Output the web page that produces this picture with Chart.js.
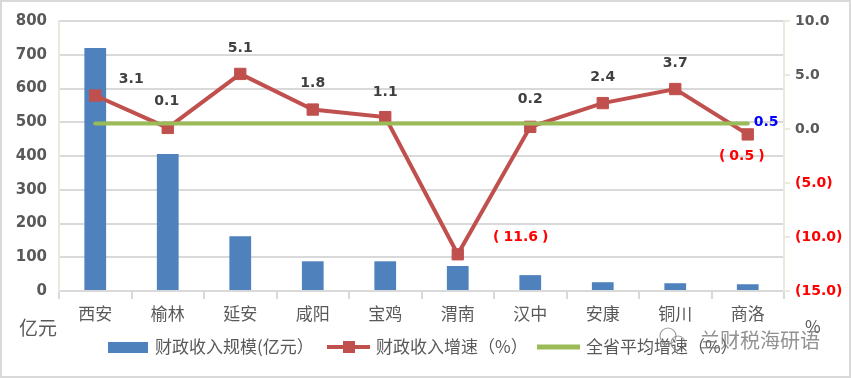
<!DOCTYPE html>
<html><head><meta charset="utf-8">
<script src="https://cdn.jsdelivr.net/npm/chart.js@4"></script>
<style>html,body{margin:0;padding:0;background:#fff}canvas{display:block}</style>
</head><body>
<canvas id="c" width="851" height="378"></canvas>
<script>
const categories = ['西安','榆林','延安','咸阳','宝鸡','渭南','汉中','安康','铜川','商洛'];
const revenueScale = [720, 406, 162, 88, 88, 74, 47, 26, 23, 20];
const revenueGrowth = [3.1, 0.1, 5.1, 1.8, 1.1, -11.6, 0.2, 2.4, 3.7, -0.5];
const provinceAvg = [0.5, 0.5, 0.5, 0.5, 0.5, 0.5, 0.5, 0.5, 0.5, 0.5];
const seriesNames = ['财政收入规模(亿元）', '财政收入增速（%）', '全省平均增速（%）'];
const leftTicks = {min: 0, max: 800, step: 100};
const rightTicks = {min: -15, max: 10, step: 5};

// label placement (styling only)
const growthLabelOffsets = [[36,-16],[-1,-27],[0,-26],[0,-26],[0,-25],[63,-17],[0,-27],[0,-26],[0,-26],[-6,22]];

const BLUE='#4f81bd', RED='#c0504d', GREEN='#9bbb59', GRAY='#595959';
const TXT="'Noto Sans CJK SC', sans-serif";
const NUM="'DejaVu Sans', 'Noto Sans CJK SC', sans-serif";

const extras = {
  id:'extras',
  beforeDraw(chart){
    const c=chart.ctx; c.save(); c.fillStyle='#fff'; c.fillRect(0,0,chart.width,chart.height); c.restore();
  },
  afterDraw(chart){
    const c=chart.ctx; c.save();
    // border
    c.strokeStyle='#d9d9d9'; c.lineWidth=2; c.strokeRect(1,1,chart.width-2,chart.height-2);
    // data labels
    const m1=chart.getDatasetMeta(1);
    c.textAlign='center'; c.textBaseline='middle';
    revenueGrowth.forEach((v,i)=>{
      const p=m1.data[i]; const o=growthLabelOffsets[i];
      if (v<0) {
        c.fillStyle='#ff0000';
        c.font='bold 14px '+NUM;
        const num=(-v).toFixed(1);
        const w=c.measureText(num).width;
        c.fillText(num, p.x+o[0], p.y+o[1]);
        c.font='bold 14px '+NUM;
        c.textAlign='right'; c.fillText('(', p.x+o[0]-w/2-4, p.y+o[1]);
        c.textAlign='left'; c.fillText(')', p.x+o[0]+w/2+4, p.y+o[1]);
        c.textAlign='center';
      } else {
        c.fillStyle='#404040';
        c.font='bold 14px '+NUM;
        c.fillText(v.toFixed(1), p.x+o[0], p.y+o[1]);
      }
    });
    const m2=chart.getDatasetMeta(2); const last=m2.data[m2.data.length-1];
    c.fillStyle='#0000ff'; c.textAlign='left'; c.font='bold 14px '+NUM;
    c.fillText(provinceAvg[provinceAvg.length-1].toFixed(1), last.x+6, last.y-1);
    // unit labels
    c.fillStyle=GRAY; c.font='19px '+TXT; c.textAlign='left';
    c.fillText('亿元', 19, 328);
    c.font='17px '+TXT; c.fillText('%', 805, 327);
    // legend
    const ly=347;
    c.fillStyle=BLUE; c.fillRect(108,342,40,11);
    c.fillStyle=GRAY; c.font='17px '+TXT; c.textAlign='left';
    c.fillText(seriesNames[0], 155, ly);
    c.strokeStyle=RED; c.lineWidth=4; c.beginPath(); c.moveTo(327,ly); c.lineTo(370,ly); c.stroke();
    c.fillStyle=RED; c.fillRect(343,ly-6,12,12);
    c.fillStyle=GRAY; c.fillText(seriesNames[1], 376, ly);
    c.strokeStyle=GREEN; c.lineWidth=5; c.beginPath(); c.moveTo(537,ly); c.lineTo(580,ly); c.stroke();
    c.fillStyle=GRAY; c.fillText(seriesNames[2], 586, ly);
    // watermark
    c.strokeStyle='rgba(120,120,120,0.7)'; c.lineWidth=1.2;
    c.beginPath(); c.arc(668,336,8,0,Math.PI*2); c.stroke();
    c.beginPath(); c.arc(678,343,7,0,Math.PI*2); c.stroke();
    c.fillStyle='rgba(110,110,110,0.75)'; c.font='20px '+TXT;
    c.fillText('兰财税海研语', 700, 340);
    c.restore();
  }
};

new Chart(document.getElementById('c'), {
  data:{
    labels: categories,
    datasets:[
      {type:'bar', label:seriesNames[0], data:revenueScale, backgroundColor:BLUE, yAxisID:'y', order:3, barPercentage:0.6, categoryPercentage:0.5},
      {type:'line', label:seriesNames[1], data:revenueGrowth, borderColor:RED, backgroundColor:RED, borderWidth:4, yAxisID:'y1', order:2,
        pointStyle:'rect', pointRadius:8, pointBorderWidth:1, pointBackgroundColor:RED, pointBorderColor:RED, tension:0},
      {type:'line', label:seriesNames[2], data:provinceAvg, borderColor:GREEN, borderWidth:4, yAxisID:'y1', order:1, pointRadius:0, borderCapStyle:'round'}
    ]
  },
  options:{
    responsive:false, animation:false,
    layout:{padding:{top:19,left:0,right:0,bottom:0}},
    plugins:{legend:{display:false}, tooltip:{enabled:false}},
    scales:{
      x:{
        offset:true,
        grid:{offset:true, drawOnChartArea:false, color:'#d9d9d9', lineWidth:2, tickLength:8},
        border:{color:'#d9d9d9', width:2},
        ticks:{color:GRAY, font:{family:TXT, size:17}, padding:4, maxRotation:0},
        afterFit(s){ s.height=87; }
      },
      y:{
        position:'left', min:leftTicks.min, max:leftTicks.max,
        ticks:{stepSize:leftTicks.step, color:GRAY, font:{family:NUM, size:15, weight:'bold'}, padding:12},
        grid:{color:'#d9d9d9', lineWidth:2, drawTicks:false},
        border:{color:'#ece9dc', width:2},
        afterFit(s){ s.width=59; }
      },
      y1:{
        position:'right', min:rightTicks.min, max:rightTicks.max,
        ticks:{stepSize:rightTicks.step, font:{family:NUM, size:14, weight:'bold'}, padding:5,
          color:(ctx)=> ctx.tick && ctx.tick.value<0 ? '#ff0000' : GRAY,
          callback:(v)=> v<0 ? '('+(-v).toFixed(1)+')' : Number(v).toFixed(1)},
        grid:{drawOnChartArea:false, color:'#ece9dc', lineWidth:2, tickLength:6},
        border:{color:'#ece9dc', width:2},
        afterFit(s){ s.width=67; }
      }
    }
  },
  plugins:[extras]
});
</script>
</body></html>
